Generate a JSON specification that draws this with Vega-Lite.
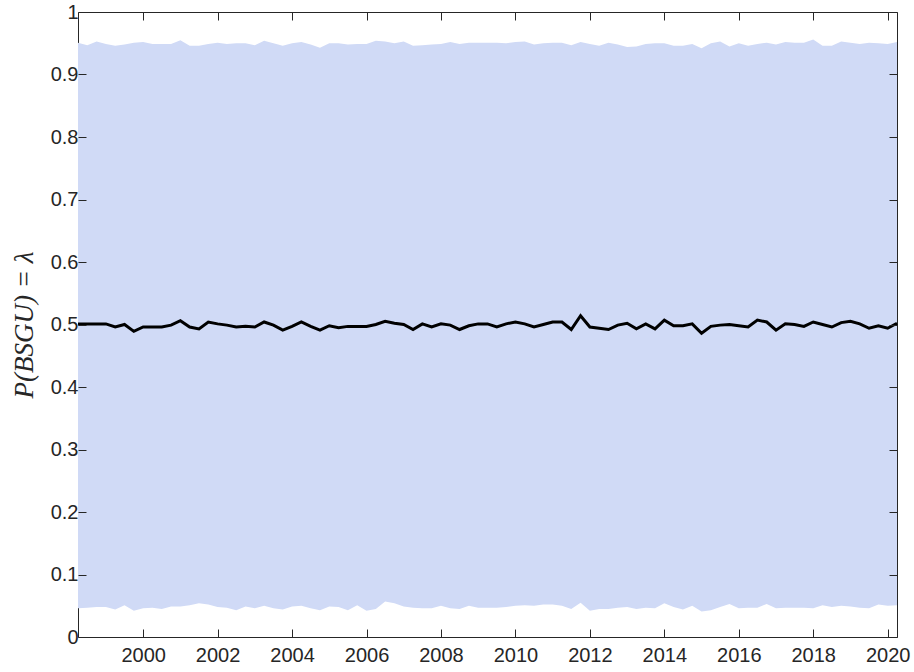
{
  "$schema": "https://vega.github.io/schema/vega-lite/v6.json",
  "autosize": "none",
  "padding": {"left": 78, "top": 12, "right": 17, "bottom": 35},
  "width": 819,
  "height": 625,
  "background": "white",
  "config": {
    "view": {"stroke": "#262626", "strokeWidth": 1},
    "axis": {
      "domain": false,
      "grid": false,
      "labelFont": "Liberation Sans",
      "labelFontSize": 20,
      "labelColor": "#262626"
    }
  },
  "data": {
    "values": [
      {"t": 1998.25, "med": 0.501, "hi": 0.951, "lo": 0.046},
      {"t": 1998.5, "med": 0.501, "hi": 0.947, "lo": 0.047},
      {"t": 1998.75, "med": 0.501, "hi": 0.953, "lo": 0.048},
      {"t": 1999.0, "med": 0.501, "hi": 0.949, "lo": 0.048},
      {"t": 1999.25, "med": 0.496, "hi": 0.946, "lo": 0.044},
      {"t": 1999.5, "med": 0.500, "hi": 0.948, "lo": 0.051},
      {"t": 1999.75, "med": 0.489, "hi": 0.951, "lo": 0.042},
      {"t": 2000.0, "med": 0.496, "hi": 0.952, "lo": 0.046},
      {"t": 2000.25, "med": 0.496, "hi": 0.949, "lo": 0.047},
      {"t": 2000.5, "med": 0.496, "hi": 0.949, "lo": 0.045},
      {"t": 2000.75, "med": 0.499, "hi": 0.949, "lo": 0.049},
      {"t": 2001.0, "med": 0.506, "hi": 0.955, "lo": 0.049},
      {"t": 2001.25, "med": 0.496, "hi": 0.946, "lo": 0.051},
      {"t": 2001.5, "med": 0.493, "hi": 0.946, "lo": 0.054},
      {"t": 2001.75, "med": 0.504, "hi": 0.949, "lo": 0.052},
      {"t": 2002.0, "med": 0.501, "hi": 0.951, "lo": 0.048},
      {"t": 2002.25, "med": 0.499, "hi": 0.949, "lo": 0.047},
      {"t": 2002.5, "med": 0.496, "hi": 0.950, "lo": 0.043},
      {"t": 2002.75, "med": 0.497, "hi": 0.950, "lo": 0.049},
      {"t": 2003.0, "med": 0.496, "hi": 0.947, "lo": 0.046},
      {"t": 2003.25, "med": 0.504, "hi": 0.954, "lo": 0.050},
      {"t": 2003.5, "med": 0.499, "hi": 0.950, "lo": 0.046},
      {"t": 2003.75, "med": 0.491, "hi": 0.946, "lo": 0.044},
      {"t": 2004.0, "med": 0.497, "hi": 0.950, "lo": 0.049},
      {"t": 2004.25, "med": 0.504, "hi": 0.952, "lo": 0.050},
      {"t": 2004.5, "med": 0.497, "hi": 0.948, "lo": 0.046},
      {"t": 2004.75, "med": 0.491, "hi": 0.943, "lo": 0.043},
      {"t": 2005.0, "med": 0.498, "hi": 0.950, "lo": 0.049},
      {"t": 2005.25, "med": 0.495, "hi": 0.950, "lo": 0.048},
      {"t": 2005.5, "med": 0.497, "hi": 0.948, "lo": 0.043},
      {"t": 2005.75, "med": 0.497, "hi": 0.949, "lo": 0.051},
      {"t": 2006.0, "med": 0.497, "hi": 0.949, "lo": 0.042},
      {"t": 2006.25, "med": 0.500, "hi": 0.954, "lo": 0.045},
      {"t": 2006.5, "med": 0.505, "hi": 0.953, "lo": 0.057},
      {"t": 2006.75, "med": 0.502, "hi": 0.950, "lo": 0.054},
      {"t": 2007.0, "med": 0.500, "hi": 0.953, "lo": 0.049},
      {"t": 2007.25, "med": 0.492, "hi": 0.946, "lo": 0.047},
      {"t": 2007.5, "med": 0.501, "hi": 0.947, "lo": 0.046},
      {"t": 2007.75, "med": 0.496, "hi": 0.948, "lo": 0.046},
      {"t": 2008.0, "med": 0.501, "hi": 0.949, "lo": 0.050},
      {"t": 2008.25, "med": 0.499, "hi": 0.952, "lo": 0.046},
      {"t": 2008.5, "med": 0.492, "hi": 0.949, "lo": 0.045},
      {"t": 2008.75, "med": 0.498, "hi": 0.951, "lo": 0.050},
      {"t": 2009.0, "med": 0.501, "hi": 0.951, "lo": 0.047},
      {"t": 2009.25, "med": 0.501, "hi": 0.951, "lo": 0.047},
      {"t": 2009.5, "med": 0.496, "hi": 0.951, "lo": 0.047},
      {"t": 2009.75, "med": 0.501, "hi": 0.950, "lo": 0.048},
      {"t": 2010.0, "med": 0.504, "hi": 0.952, "lo": 0.050},
      {"t": 2010.25, "med": 0.501, "hi": 0.953, "lo": 0.051},
      {"t": 2010.5, "med": 0.496, "hi": 0.948, "lo": 0.050},
      {"t": 2010.75, "med": 0.500, "hi": 0.950, "lo": 0.052},
      {"t": 2011.0, "med": 0.504, "hi": 0.951, "lo": 0.052},
      {"t": 2011.25, "med": 0.504, "hi": 0.951, "lo": 0.050},
      {"t": 2011.5, "med": 0.492, "hi": 0.947, "lo": 0.045},
      {"t": 2011.75, "med": 0.514, "hi": 0.952, "lo": 0.055},
      {"t": 2012.0, "med": 0.496, "hi": 0.949, "lo": 0.042},
      {"t": 2012.25, "med": 0.494, "hi": 0.946, "lo": 0.045},
      {"t": 2012.5, "med": 0.492, "hi": 0.951, "lo": 0.045},
      {"t": 2012.75, "med": 0.499, "hi": 0.948, "lo": 0.047},
      {"t": 2013.0, "med": 0.502, "hi": 0.944, "lo": 0.048},
      {"t": 2013.25, "med": 0.493, "hi": 0.945, "lo": 0.045},
      {"t": 2013.5, "med": 0.501, "hi": 0.949, "lo": 0.047},
      {"t": 2013.75, "med": 0.493, "hi": 0.950, "lo": 0.046},
      {"t": 2014.0, "med": 0.507, "hi": 0.950, "lo": 0.054},
      {"t": 2014.25, "med": 0.498, "hi": 0.946, "lo": 0.048},
      {"t": 2014.5, "med": 0.498, "hi": 0.946, "lo": 0.044},
      {"t": 2014.75, "med": 0.501, "hi": 0.949, "lo": 0.050},
      {"t": 2015.0, "med": 0.486, "hi": 0.942, "lo": 0.041},
      {"t": 2015.25, "med": 0.497, "hi": 0.950, "lo": 0.043},
      {"t": 2015.5, "med": 0.499, "hi": 0.953, "lo": 0.048},
      {"t": 2015.75, "med": 0.500, "hi": 0.945, "lo": 0.053},
      {"t": 2016.0, "med": 0.498, "hi": 0.950, "lo": 0.046},
      {"t": 2016.25, "med": 0.496, "hi": 0.946, "lo": 0.047},
      {"t": 2016.5, "med": 0.507, "hi": 0.949, "lo": 0.047},
      {"t": 2016.75, "med": 0.504, "hi": 0.951, "lo": 0.053},
      {"t": 2017.0, "med": 0.491, "hi": 0.948, "lo": 0.046},
      {"t": 2017.25, "med": 0.501, "hi": 0.952, "lo": 0.047},
      {"t": 2017.5, "med": 0.500, "hi": 0.951, "lo": 0.047},
      {"t": 2017.75, "med": 0.497, "hi": 0.951, "lo": 0.047},
      {"t": 2018.0, "med": 0.504, "hi": 0.956, "lo": 0.046},
      {"t": 2018.25, "med": 0.500, "hi": 0.946, "lo": 0.051},
      {"t": 2018.5, "med": 0.496, "hi": 0.946, "lo": 0.048},
      {"t": 2018.75, "med": 0.503, "hi": 0.953, "lo": 0.050},
      {"t": 2019.0, "med": 0.505, "hi": 0.951, "lo": 0.049},
      {"t": 2019.25, "med": 0.501, "hi": 0.949, "lo": 0.047},
      {"t": 2019.5, "med": 0.494, "hi": 0.951, "lo": 0.046},
      {"t": 2019.75, "med": 0.498, "hi": 0.950, "lo": 0.052},
      {"t": 2020.0, "med": 0.494, "hi": 0.949, "lo": 0.050},
      {"t": 2020.25, "med": 0.502, "hi": 0.952, "lo": 0.051}
    ]
  },
  "layer": [
    {
      "mark": {"type": "area", "color": "#d0daf6", "opacity": 1},
      "encoding": {
        "x": {
          "field": "t", "type": "quantitative",
          "scale": {"domain": [1998.25, 2020.25], "nice": false, "zero": false},
          "axis": {
            "orient": "bottom", "title": null,
            "values": [2000, 2002, 2004, 2006, 2008, 2010, 2012, 2014, 2016, 2018, 2020],
            "format": "d", "labelPadding": 8, "labelFlush": false,
            "ticks": true, "tickSize": 8, "tickColor": "#262626", "tickWidth": 1,
            "offset": -8, "zindex": 2
          }
        },
        "y": {
          "field": "lo", "type": "quantitative",
          "scale": {"domain": [0, 1], "nice": false, "zero": false},
          "axis": {
            "orient": "left",
            "values": [0, 0.1, 0.2, 0.3, 0.4, 0.5, 0.6, 0.7, 0.8, 0.9, 1],
            "format": "~g", "labelPadding": 0,
            "ticks": true, "tickSize": 8, "tickColor": "#262626", "tickWidth": 1,
            "offset": -8, "zindex": 2,
            "title": "P(BSGU) = λ",
            "titleFont": "Liberation Serif",
            "titleFontStyle": "italic",
            "titleFontWeight": "normal",
            "titleFontSize": 27,
            "titleColor": "#262626",
            "titlePadding": 12
          }
        },
        "y2": {"field": "hi"}
      }
    },
    {
      "mark": {"type": "line", "color": "black", "strokeWidth": 3},
      "encoding": {
        "x": {
          "field": "t", "type": "quantitative",
          "scale": {"domain": [1998.25, 2020.25], "nice": false, "zero": false},
          "axis": {
            "orient": "top", "title": null, "labels": false,
            "ticks": true, "tickSize": 8, "tickColor": "#262626", "tickWidth": 1,
            "offset": -8, "zindex": 2,
            "values": [2000, 2002, 2004, 2006, 2008, 2010, 2012, 2014, 2016, 2018, 2020]
          }
        },
        "y": {
          "field": "med", "type": "quantitative",
          "scale": {"domain": [0, 1], "nice": false, "zero": false},
          "axis": {
            "orient": "right", "title": null, "labels": false,
            "ticks": true, "tickSize": 8, "tickColor": "#262626", "tickWidth": 1,
            "offset": -8, "zindex": 2,
            "values": [0, 0.1, 0.2, 0.3, 0.4, 0.5, 0.6, 0.7, 0.8, 0.9, 1]
          }
        }
      }
    }
  ],
  "resolve": {"axis": {"x": "independent", "y": "independent"}}
}
